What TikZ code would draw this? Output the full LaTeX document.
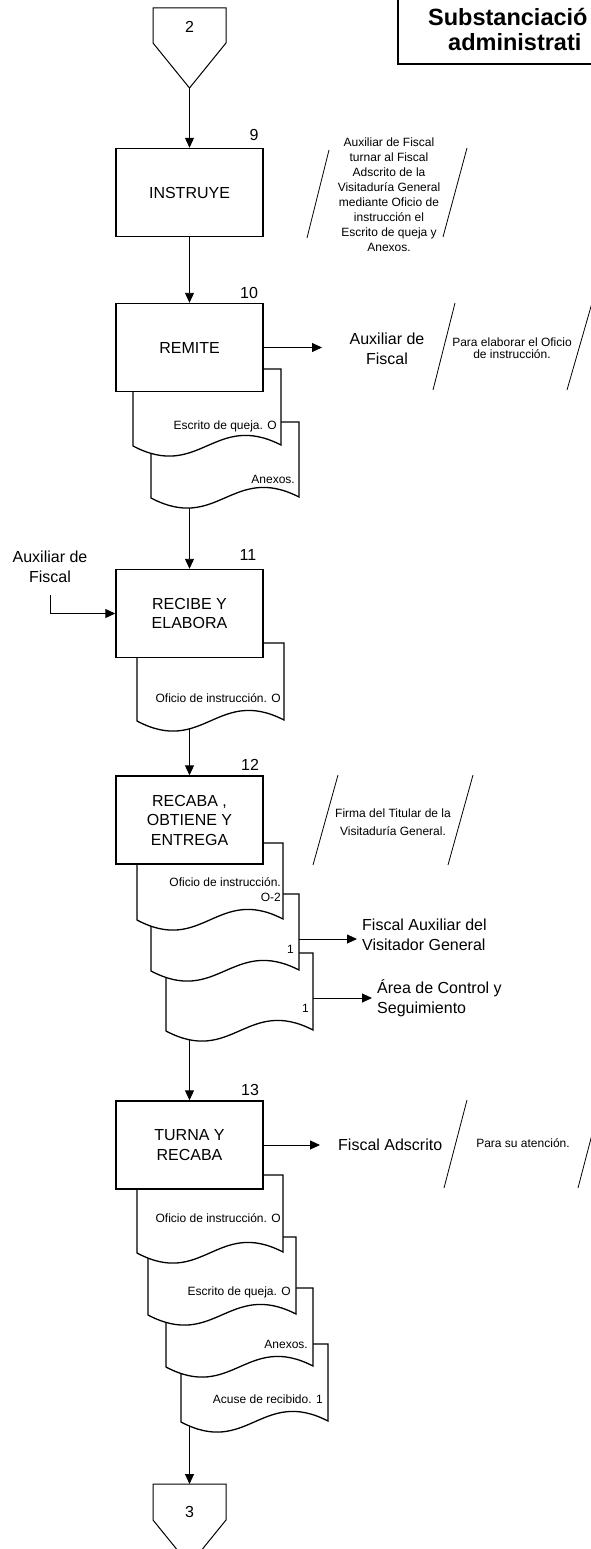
\documentclass[tikz,border=0pt]{standalone}
\usepackage{fontspec}
\setmainfont{Liberation Sans}
\usetikzlibrary{arrows.meta}
\pgfdeclarelayer{bg}
\pgfsetlayers{bg,main}
\tikzset{
 stepbox/.style={draw, line width=1.4pt, fill=white, minimum width=147pt, minimum height=88pt, inner sep=0pt, align=center, font=\fontsize{16}{19.5}\selectfont},
 docstyle/.style={draw, line width=1.3pt, fill=white},
 flow/.style={line width=0.9pt, -{Triangle[length=10pt,width=9pt]}},
 plain/.style={line width=0.9pt},
 slash/.style={line width=0.8pt},
 big/.style={inner sep=0pt, font=\fontsize{16}{19.5}\selectfont},
 small/.style={inner sep=0pt, font=\fontsize{12}{15}\selectfont},
 conn/.style={draw, line width=1pt, fill=white},
 titletext/.style={inner sep=0pt, anchor=west, font=\bfseries\fontsize{23.5}{27}\selectfont},
}
\newcommand{\docshape}[4]{%
 \draw[docstyle] (#1,#2) -- ({#1+#3},#2) -- ({#1+#3},{#2+#4-1}) .. controls ({#1+0.55*#3},{#2+#4-35}) and ({#1+0.45*#3},{#2+#4+35}) .. (#1,{#2+#4}) -- cycle;}

\begin{document}
\begin{tikzpicture}[x=1pt,y=-1pt]
\useasboundingbox (0,0) rectangle (591,1549);

% title
\draw[line width=2pt] (398,-5) -- (398,64) -- (600,64);
\node[titletext] (t1) at (428,17) {Substanciació};
\node[titletext] (t2) at (448,42) {administrati};

% connector 2
\draw[conn] (153,8) -- (226,8) -- (226,43) -- (189.5,88) -- (153,43) -- cycle;
\node[big] (c2) at (189.5,27) {2};
\coordinate (c2b) at (189.5,88);

% step 9
\node[stepbox] (box9) at (189.5,192.5) {INSTRUYE};
\node[big] (n9) at (254,135) {9};
\draw[slash] (329,150) -- (307,238);
\draw[slash] (467,148) -- (443,237);
\node[small, align=center, font=\fontsize{12}{15}\selectfont] (a9) at (389,195) {Auxiliar de Fiscal\\turnar al Fiscal\\Adscrito de la\\Visitaduría General\\mediante Oficio de\\instrucción el\\Escrito de queja y\\Anexos.};

% step 10
\docshape{151}{422}{148}{76}
\node[small, anchor=east] (d10b) at (295,479) {Anexos.};
\docshape{133}{369}{148}{77}
\node[small, anchor=east] (d10a) at (277,426) {Escrito de queja. O};
\node[stepbox] (box10) at (189.5,347.5) {REMITE};
\node[big] (n10) at (249,293) {10};
\coordinate (r10) at (322,347.5);
\draw[flow] (box10.east) -- (r10);
\node[big, align=center] (aux10) at (387,349) {Auxiliar de\\Fiscal};
\draw[slash] (455,303) -- (433,390);
\draw[slash] (592,303) -- (567,390);
\node[small, align=center, font=\fontsize{12}{12}\selectfont] (a10) at (512,348) {Para elaborar el Oficio\\de instrucción.};
\coordinate (d10end) at (189.5,480);

% step 11
\docshape{137}{643}{147}{78}
\node[small, anchor=east] (d11a) at (281,698) {Oficio de instrucción. O};
\node[stepbox] (box11) at (189.5,613.5) {RECIBE Y\\ELABORA};
\node[big] (n11) at (248,555) {11};
\node[big, align=center] (aux11) at (50,567) {Auxiliar de\\Fiscal};
\coordinate (aux11b) at (50,595);
\draw[flow] (aux11b) |- (box11.west);
\coordinate (d11end) at (189.5,700);

% step 12
\docshape{166}{953}{147}{78}
\node[small, anchor=east] (d12c) at (309,1008) {1};
\docshape{151}{894}{148}{77}
\node[small, anchor=east] (d12b) at (294,949) {1};
\docshape{137}{843}{146}{77}
\node[small, anchor=east, align=right] (d12a) at (281,890) {Oficio de instrucción.\\O-2};
\node[stepbox] (box12) at (189.5,820) {RECABA ,\\OBTIENE Y\\ENTREGA};
\node[big] (n12) at (250,765) {12};
\draw[slash] (338,775) -- (313,865);
\draw[slash] (473,775) -- (448,865);
\node[small, align=center, font=\fontsize{12}{18}\selectfont] (a12) at (393,822) {Firma del Titular de la\\Visitaduría General.};
\coordinate (s12b) at (299,939);
\coordinate (e12b) at (357,939);
\draw[flow] (s12b) -- (e12b);
\node[big, anchor=west, align=left, font=\fontsize{16}{20}\selectfont] (fav) at (362,935) {Fiscal Auxiliar del\\Visitador General};
\coordinate (s12c) at (313,998);
\coordinate (e12c) at (372,998);
\draw[flow] (s12c) -- (e12c);
\node[big, anchor=west, align=left, font=\fontsize{16}{20}\selectfont] (acs) at (377,998) {Área de Control y\\Seguimiento};
\coordinate (d12end) at (189.5,1010);

% step 13
\docshape{181}{1344}{147}{78}
\node[small, anchor=east] (d13d) at (323,1399) {Acuse de recibido. 1};
\docshape{166}{1288}{147}{79}
\node[small, anchor=east] (d13c) at (308,1344) {Anexos.};
\docshape{148}{1237}{148}{78}
\node[small, anchor=east] (d13b) at (291,1292) {Escrito de queja. O};
\docshape{137}{1175}{146}{78}
\node[small, anchor=east] (d13a) at (281,1218) {Oficio de instrucción. O};
\node[stepbox] (box13) at (189.5,1145) {TURNA Y\\RECABA};
\node[big] (n13) at (250,1090) {13};
\coordinate (r13) at (320,1145);
\draw[flow] (box13.east) -- (r13);
\node[big, anchor=west] (fad) at (338,1145) {Fiscal Adscrito};
\draw[slash] (467,1100) -- (444,1188);
\draw[slash] (601,1100) -- (578,1188);
\node[small] (a13) at (523,1143) {Para su atención.};
\coordinate (d13end) at (189.5,1400);

% connector 3
\draw[conn] (153,1484) -- (226,1484) -- (226,1520) -- (189.5,1565) -- (153,1520) -- cycle;
\node[big] (c3) at (189.5,1512) {3};
\coordinate (c3t) at (189.5,1484);

% flow lines behind
\begin{pgfonlayer}{bg}
\draw[flow] (c2b) -- (box9.north);
\draw[flow] (box9.south) -- (box10.north);
\draw[flow] (d10end) -- (box11.north);
\draw[flow] (d11end) -- (box12.north);
\draw[flow] (d12end) -- (box13.north);
\draw[flow] (d13end) -- (c3t);
\end{pgfonlayer}
\end{tikzpicture}
\end{document}
